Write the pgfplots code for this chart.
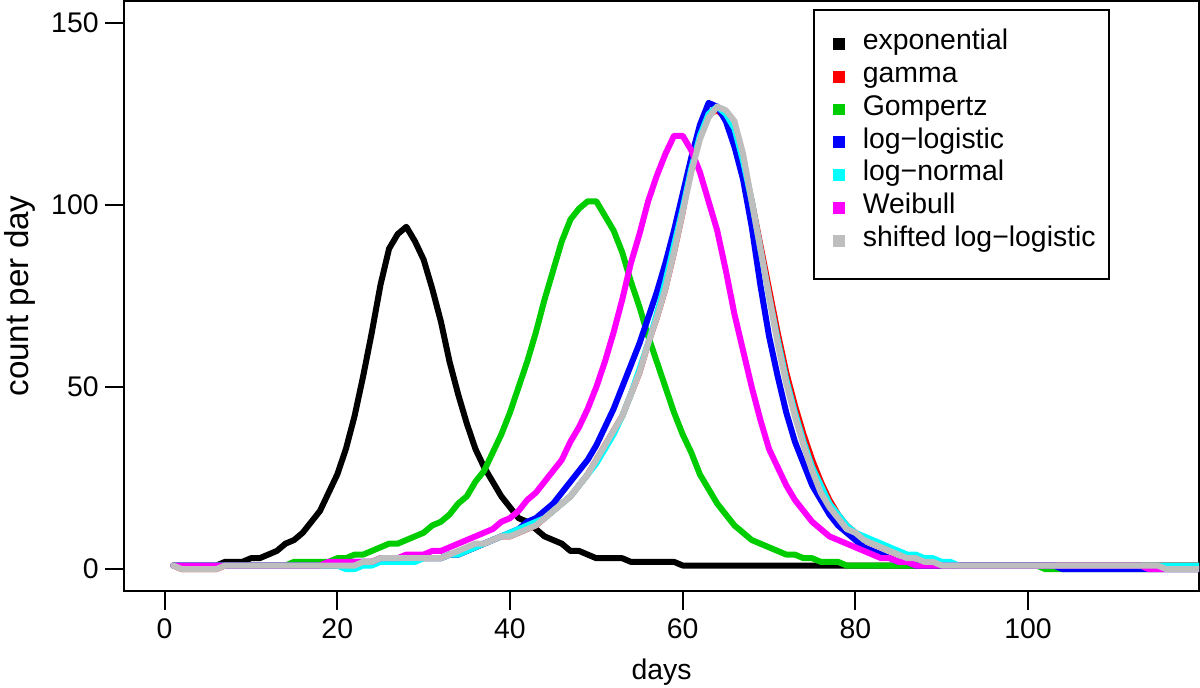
\documentclass[border=0pt]{standalone}
\usepackage{fontspec}
\setmainfont{Liberation Sans}
\usepackage{pgfplots}
\usepackage{pgfplotstable}
\pgfplotsset{compat=1.18}

\definecolor{rgreen}{RGB}{0,205,0}
\definecolor{rgray}{RGB}{190,190,190}
\definecolor{rred}{RGB}{255,0,0}
\definecolor{rblue}{RGB}{0,0,255}
\definecolor{rcyan}{RGB}{0,255,255}
\definecolor{rmag}{RGB}{255,0,255}

\newcommand\fs{\fontsize{14.2}{17}\selectfont}

% daily counts
\pgfplotstableread{
d exp gam gom ll ln wei sll
1 1 1 1 1 1 1 1
2 1 0 1 1 1 1 0
3 1 0 1 1 1 1 0
4 1 0 1 1 1 1 0
5 1 0 1 1 1 1 0
6 1 0 1 1 1 1 0
7 2 1 1 1 1 1 1
8 2 1 1 1 1 1 1
9 2 1 1 1 1 1 1
10 3 1 1 1 1 1 1
11 3 1 1 1 1 1 1
12 4 1 1 1 1 1 1
13 5 1 1 1 1 1 1
14 7 1 1 1 1 1 1
15 8 1 2 1 1 1 1
16 10 1 2 1 1 1 1
17 13 1 2 1 1 1 1
18 16 1 2 1 1 1 1
19 21 1 2 1 1 2 1
20 26 1 3 1 1 2 1
21 33 1 3 1 0 2 1
22 42 1 4 2 0 2 1
23 53 2 4 2 1 2 2
24 65 2 5 2 1 2 2
25 78 3 6 2 2 3 3
26 88 3 7 2 2 3 3
27 92 3 7 3 2 3 3
28 94 3 8 3 2 4 3
29 90 3 9 3 2 4 3
30 85 3 10 3 3 4 3
31 77 3 12 3 3 5 3
32 68 3 13 3 3 5 3
33 57 4 15 4 4 6 4
34 48 4 18 4 4 7 5
35 40 5 20 5 5 8 6
36 33 6 24 6 6 9 7
37 28 7 27 7 7 10 7
38 24 8 32 8 8 11 8
39 20 9 37 9 9 13 9
40 17 9 43 10 10 14 9
41 14 10 50 11 11 16 10
42 13 11 57 13 12 19 11
43 11 12 65 14 13 21 12
44 9 14 74 16 14 24 14
45 8 16 82 18 16 27 16
46 7 18 90 21 18 30 18
47 5 20 96 24 20 35 20
48 5 23 99 27 23 39 23
49 4 26 101 30 26 44 26
50 3 30 101 34 29 50 30
51 3 34 97 39 33 57 34
52 3 38 93 44 37 65 38
53 3 42 87 50 42 74 42
54 2 48 79 56 48 84 48
55 2 54 72 62 55 92 54
56 2 62 64 69 62 101 62
57 2 69 57 76 70 108 69
58 2 77 50 84 79 114 77
59 2 87 43 93 89 119 87
60 1 98 37 103 99 119 98
61 1 111 32 113 110 115 109
62 1 119 26 122 119 109 118
63 1 125 22 128 125 101 124
64 1 126 18 127 127 93 127
65 1 124 15 123 125 82 126
66 1 120 12 116 121 70 123
67 1 112 10 107 112 60 114
68 1 101 8 94 101 50 101
69 1 89 7 78 88 41 88
70 1 77 6 64 75 33 75
71 1 65 5 53 63 28 62
72 1 54 4 43 52 23 51
73 1 45 4 35 43 19 42
74 1 37 3 29 35 16 34
75 1 30 3 23 28 13 27
76 1 24 2 19 23 11 21
77 1 19 2 15 18 9 17
78 1 15 2 12 15 8 14
79 1 12 1 10 12 7 11
80 1 10 1 8 10 6 10
81 1 8 1 6 9 5 8
82 1 7 1 5 8 4 7
83 1 6 1 4 7 3 6
84 1 5 1 3 6 3 5
85 1 4 1 2 5 2 4
86 1 3 1 2 4 2 3
87 1 3 1 1 4 1 3
88 1 2 1 1 3 1 2
89 1 2 1 1 3 1 2
90 1 1 1 1 2 1 1
91 1 1 1 1 2 1 1
92 1 1 1 1 1 1 1
93 1 1 1 1 1 1 1
94 1 1 1 1 1 1 1
95 1 1 1 1 1 1 1
96 1 1 1 1 1 1 1
97 1 1 1 1 1 1 1
98 1 1 1 1 1 1 1
99 1 1 1 1 1 1 1
100 1 1 1 1 1 1 1
101 1 1 1 1 1 1 1
102 1 1 0 1 1 1 1
103 1 1 0 1 1 1 1
104 1 1 0 0 1 1 1
105 1 1 0 0 1 1 1
106 1 1 0 0 1 1 1
107 1 1 0 0 1 1 1
108 1 1 0 0 1 1 1
109 1 1 0 0 1 1 1
110 1 1 0 0 1 1 1
111 1 1 0 0 1 1 1
112 1 1 0 0 1 1 1
113 1 1 0 0 1 1 1
114 1 1 0 0 1 0 1
115 1 1 0 0 1 0 1
116 1 1 0 0 1 0 0
117 1 1 0 0 1 0 0
118 1 1 0 0 1 0 0
119 1 1 0 0 1 0 0
120 1 1 0 0 1 0 0
}\data

\begin{document}
\begin{tikzpicture}
\path[use as bounding box] (-62pt,-48pt) rectangle (538pt,295.5pt);
\begin{axis}[
  at={(0,0)}, anchor=south west,
  scale only axis, width=537.5pt, height=295pt,
  xmin=-4.7, xmax=119.8, ymin=-6, ymax=156,
  xtick={0,20,40,60,80,100}, ytick={0,50,100,150},
  tick pos=left,
  tick align=outside, major tick length=9.5pt,
  tick style={line width=1pt, black},
  axis line style={line width=1.2pt},
  /pgf/number format/assume math mode=true,
  tick label style={font=\fs},
  xticklabel style={anchor=base, inner sep=0pt, yshift=-14pt},
  yticklabel style={anchor=east, inner sep=0pt, xshift=-3pt},
  label style={font=\fs},
  xlabel={days}, ylabel={count per day},
  xlabel style={at={(axis description cs:0.5,-0.1508)}, anchor=base},
  ylabel style={at={(axis description cs:-0.0893,0.5)}, anchor=base,
    font=\fontsize{16.6}{19}\selectfont},
  every axis plot/.append style={line width=3pt, line join=round, line cap=round, mark=none},
  legend image code/.code={
    \path[draw=none, fill=none] (-3pt,0pt) rectangle (0pt,1pt);
    \fill[#1, draw=none] (0pt,0pt) rectangle (5.9pt,5.9pt);
  },
  legend style={
    at={(rel axis cs:0.6407,0.9864)}, anchor=north west,
    draw=black, line width=1pt, fill=white,
    inner xsep=6.65pt, inner ysep=9.78pt,
    row sep=0pt, column sep=9pt,
    font=\fs,
    cells={anchor=base west},
    nodes={inner sep=0pt, text height=10.08pt, text depth=6.32pt},
  },
]
\addplot[color=black] table[x=d, y=exp] {\data};
\addlegendentry{exponential}
\addplot[color=rred] table[x=d, y=gam] {\data};
\addlegendentry{gamma}
\addplot[color=rgreen] table[x=d, y=gom] {\data};
\addlegendentry{Gompertz}
\addplot[color=rblue] table[x=d, y=ll] {\data};
\addlegendentry{log−logistic}
\addplot[color=rcyan] table[x=d, y=ln] {\data};
\addlegendentry{log−normal}
\addplot[color=rmag] table[x=d, y=wei] {\data};
\addlegendentry{Weibull}
\addplot[color=rgray] table[x=d, y=sll] {\data};
\addlegendentry{shifted log−logistic}
\end{axis}
\end{tikzpicture}
\end{document}
